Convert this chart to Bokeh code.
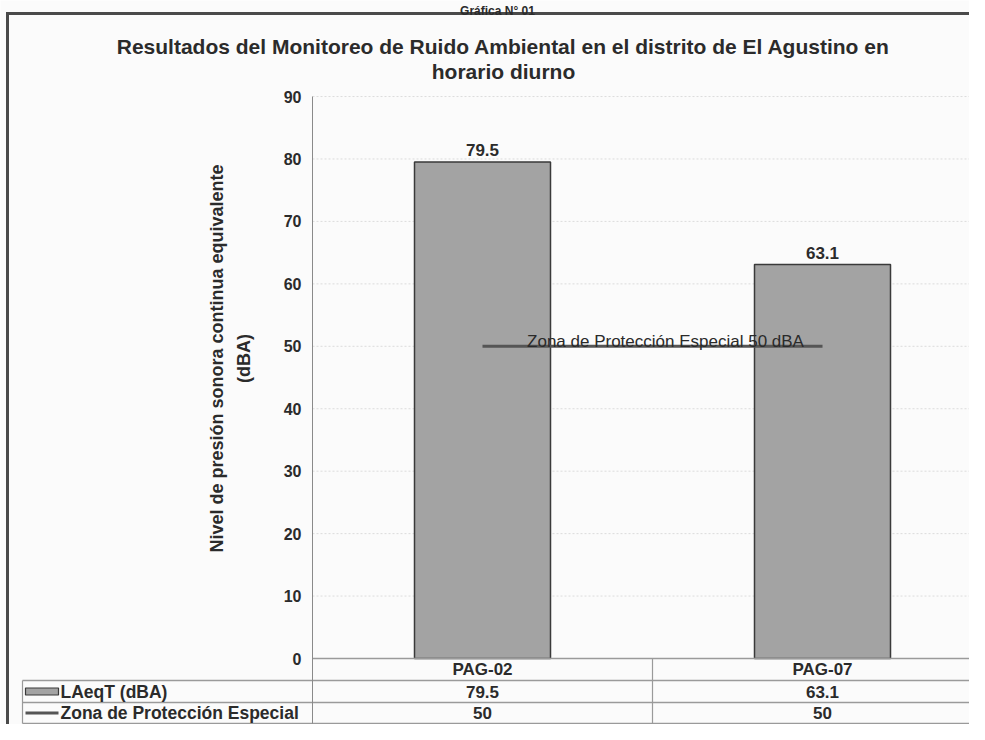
import numpy as np
from bokeh.plotting import figure
from bokeh.models import Range1d, FixedTicker, LinearAxis
from bokeh.core.properties import value
from bokeh.embed import file_html
from bokeh.resources import INLINE

# ---------------- data ----------------
categories = ["PAG-02", "PAG-07"]
laeq_values = [79.5, 63.1]
limit_values = [50, 50]
y_ticks = [0, 10, 20, 30, 40, 50, 60, 70, 80, 90]
series_names = ["LAeqT (dBA)", "Zona de Protección Especial"]
title_lines = ["Resultados del Monitoreo de Ruido Ambiental en el distrito de El Agustino en",
               "horario diurno"]
y_label_lines = ["Nivel de presión sonora continua equivalente", "(dBA)"]
limit_label = "Zona de Protección Especial 50 dBA"
top_caption = "Gráfica N° 01"

# ---------------- layout (canvas pixels) ----------------
W, H = 969, 724
X0_PX = 312      # category axis origin
CAT_PX = 340     # width of one category
Y0_PX = 658      # value 0
UNIT_PX = 6.244  # pixels per dB

def dx(px):
    return (px - X0_PX) / CAT_PX

def dy(py):
    return (Y0_PX - py) / UNIT_PX

FONT = value("Liberation Sans")
TXT = "#2b2b2b"
BAR_FILL = "#a3a3a3"
BAR_LINE = "#3a3a3a"
LIM_COLOR = "#555555"
TABLE_LINE = "#9a9a9a"

p = figure(width=W, height=H,
           x_range=Range1d(dx(0), dx(W)), y_range=Range1d(dy(H), dy(0)),
           output_backend="svg", toolbar_location=None,
           x_axis_type=None, y_axis_type=None,
           min_border=0, min_border_left=0, min_border_right=0,
           min_border_top=0, min_border_bottom=0)
p.outline_line_color = None
p.background_fill_color = "#fbfbfb"
p.border_fill_color = "white"
p.grid.visible = False

cat_x = np.arange(len(categories)) + 0.5
n_cat = len(categories)

# table rows (data y)
r0 = 0.0
r1 = dy(680)
r2 = dy(702)
r3 = dy(723)
x_leg = dx(22)
x_end = dx(W)

# grid lines
gt = [t for t in y_ticks if t > 0]
p.segment(x0=[0] * len(gt), x1=[x_end] * len(gt), y0=gt, y1=gt,
          line_color="#dcdcdc", line_width=1, line_dash="2 2")

# y axis at x = 0
yax = LinearAxis(fixed_location=0, ticker=FixedTicker(ticks=y_ticks),
                 bounds=(r3, max(y_ticks)))
yax.axis_line_color = "#8a8a8a"
yax.axis_line_width = 1
yax.major_tick_out = 0
yax.major_tick_in = 0
yax.minor_tick_out = 0
yax.minor_tick_in = 0
yax.major_label_standoff = 11
yax.major_label_text_font = "Liberation Sans"
yax.major_label_text_font_style = "bold"
yax.major_label_text_font_size = "16px"
yax.major_label_text_color = TXT
p.add_layout(yax, "left")

# bars
p.vbar(x=cat_x, top=laeq_values, bottom=0, width=0.4,
       fill_color=BAR_FILL, line_color=BAR_LINE, line_width=1.5)

# bar value labels
p.text(x=cat_x, y=laeq_values, text=[f"{v:.1f}" for v in laeq_values],
       text_align="center", text_baseline="alphabetic", y_offset=-12,
       text_font=FONT, text_font_style="bold", text_font_size="17px", text_color=TXT)

# limit line
p.line(x=cat_x, y=limit_values, line_color=LIM_COLOR, line_width=3)
p.text(x=[dx(665)], y=[limit_values[0]], text=[limit_label],
       text_align="center", text_baseline="alphabetic", y_offset=-5,
       text_font=FONT, text_font_size="17px", text_color="#2a2a2a")

# data table lines
p.segment(x0=[0, x_leg, x_leg, x_leg], x1=[x_end] * 4,
          y0=[r0, r1, r2, r3], y1=[r0, r1, r2, r3],
          line_color=TABLE_LINE, line_width=1.5)
p.segment(x0=[x_leg] + [float(i) for i in range(1, n_cat)],
          x1=[x_leg] + [float(i) for i in range(1, n_cat)],
          y0=[r1] + [r0] * (n_cat - 1), y1=[r3] * n_cat,
          line_color=TABLE_LINE, line_width=1.2)

row_style = dict(text_align="center", text_baseline="middle", text_font=FONT,
                 text_font_style="bold", text_font_size="17px", text_color=TXT)
p.text(x=cat_x, y=[(r0 + r1) / 2] * n_cat, text=categories, **row_style)
p.text(x=cat_x, y=[(r1 + r2) / 2] * n_cat, text=[f"{v:.1f}" for v in laeq_values], **row_style)
p.text(x=cat_x, y=[(r2 + r3) / 2] * n_cat, text=[f"{v:g}" for v in limit_values], **row_style)

# legend keys in table
p.rect(x=[dx(41.5)], y=[(r1 + r2) / 2], width=33, height=7,
       width_units="screen", height_units="screen",
       fill_color=BAR_FILL, line_color=BAR_LINE, line_width=1.2)
p.segment(x0=[dx(25)], x1=[dx(58)], y0=[(r2 + r3) / 2], y1=[(r2 + r3) / 2],
          line_color=LIM_COLOR, line_width=3)
p.text(x=[dx(60)] * 2, y=[(r1 + r2) / 2, (r2 + r3) / 2], text=series_names,
       text_align="left", text_baseline="middle", text_font=FONT,
       text_font_style="bold", text_font_size="17.5px", text_color=TXT)

# y axis title (rotated)
p.text(x=[dx(216), dx(243)], y=[dy(358), dy(358)], text=y_label_lines, angle=np.pi / 2,
       text_align="center", text_baseline="middle", text_font=FONT,
       text_font_style="bold", text_font_size="18px", text_color=TXT)

# chart title
p.text(x=[dx(503), dx(503)], y=[dy(46), dy(71)], text=title_lines,
       text_align="center", text_baseline="middle", text_font=FONT,
       text_font_style="bold", text_font_size="21px", text_color=TXT)

# outer frame (left and top edges)
p.segment(x0=[dx(7), dx(5.5)], x1=[dx(7), x_end], y0=[dy(H), dy(13)], y1=[dy(13), dy(13)],
          line_color="#4a4a4a", line_width=3)

# caption above the frame
p.text(x=[dx(497)], y=[dy(10.5)], text=[top_caption], text_align="center",
       text_baseline="alphabetic", text_font=FONT, text_font_style="bold",
       text_font_size="12px", text_color=TXT)

open("out.html", "w").write(file_html(p, INLINE))
